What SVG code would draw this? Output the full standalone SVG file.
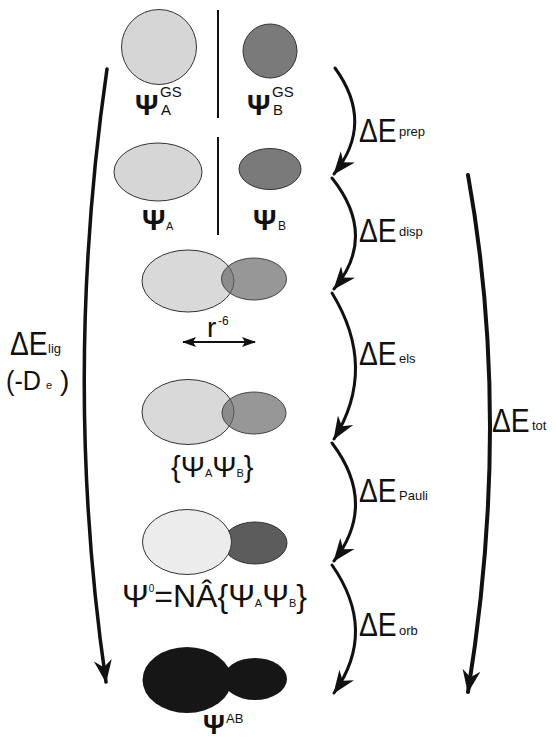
<svg xmlns="http://www.w3.org/2000/svg" width="556" height="739" viewBox="0 0 556 739">
<style>
text{font-family:"Liberation Sans",Arial,sans-serif;fill:#111}
.big{font-size:34px}
.sub{font-size:13px}
.psi{font-size:29px;font-weight:bold}
.arr{fill:none;stroke:#111;stroke-linecap:round}
.ol{stroke:#333;stroke-width:1}
</style>
<defs>
<marker id="ah" markerUnits="userSpaceOnUse" markerWidth="24" markerHeight="20" viewBox="0 0 24 20" refX="22" refY="10" orient="auto">
<path d="M0,1 L23,10 L0,19 L7,10 Z" fill="#111"/>
</marker>
<marker id="ahs" markerUnits="userSpaceOnUse" markerWidth="14" markerHeight="10" viewBox="0 0 14 10" refX="13" refY="5" orient="auto-start-reverse">
<path d="M0,0 L14,5 L0,10 L3,5 Z" fill="#111"/>
</marker>
</defs>
<rect width="556" height="739" fill="#fff"/>

<g id="row1">
<circle cx="159" cy="47" r="37.5" fill="#d6d6d6" class="ol"/>
<circle cx="270" cy="51" r="27" fill="#7a7a7a" class="ol"/>
<line x1="218" y1="10" x2="218" y2="118" stroke="#111" stroke-width="2"/>
<text x="135" y="115" class="psi">Ψ</text><text x="160" y="97" font-size="15">GS</text><text x="161" y="115" font-size="15">A</text>
<text x="247" y="115" class="psi">Ψ</text><text x="272" y="97" font-size="15">GS</text><text x="273" y="115" font-size="15">B</text>
</g>

<g id="row2">
<ellipse cx="158" cy="172" rx="44" ry="29" fill="#d6d6d6" class="ol"/>
<ellipse cx="270" cy="169" rx="31" ry="20.5" fill="#7a7a7a" class="ol"/>
<line x1="218" y1="137" x2="218" y2="235" stroke="#111" stroke-width="2"/>
<text x="142" y="230" class="psi">Ψ</text><text x="166" y="230" font-size="11">A</text>
<text x="253" y="230" class="psi">Ψ</text><text x="278" y="230" font-size="12">B</text>
</g>

<g id="row3">
<ellipse cx="188" cy="281" rx="46" ry="31" fill="#d9d9d9" class="ol"/>
<ellipse cx="254" cy="279" rx="32.5" ry="21" fill="#666" fill-opacity="0.68" stroke="#444" stroke-width="1"/>
<text x="207" y="337" font-size="28">r</text><text x="218" y="325" font-size="12">-6</text>
<line x1="183" y1="342" x2="255" y2="342" stroke="#111" stroke-width="2" marker-start="url(#ahs)" marker-end="url(#ahs)"/>
</g>

<g id="row4">
<ellipse cx="188" cy="412" rx="46" ry="32.5" fill="#d9d9d9" class="ol"/>
<ellipse cx="254" cy="413" rx="32" ry="21" fill="#666" fill-opacity="0.68" stroke="#444" stroke-width="1"/>
<text x="171" y="477" font-size="29">{Ψ<tspan font-size="11">A</tspan>Ψ<tspan font-size="11">B</tspan>}</text>
</g>

<g id="row5">
<ellipse cx="255" cy="543" rx="32" ry="21" fill="#5c5c5c" class="ol"/>
<ellipse cx="187" cy="542" rx="44.5" ry="32.5" fill="#ececec" class="ol"/>
<text x="122" y="607" font-size="32">Ψ<tspan font-size="10" dy="-15">0</tspan><tspan dy="15">=NÂ{Ψ</tspan><tspan font-size="11">A</tspan>Ψ<tspan font-size="11">B</tspan>}</text>
</g>

<g id="row6">
<ellipse cx="255" cy="679" rx="32" ry="21" fill="#161616"/>
<ellipse cx="187" cy="680" rx="44.5" ry="33" fill="#161616"/>
<text x="203" y="734" font-size="27" font-weight="bold">Ψ</text><text x="226" y="723" font-size="13">AB</text>
</g>

<g id="connectors">
<path class="arr" stroke-width="3.5" d="M107,69 Q62,380 106,682" marker-end="url(#ah)"/>
<path class="arr" stroke-width="4" d="M468,175 Q512,420 468,692" marker-end="url(#ah)"/>
<path class="arr" stroke-width="3" d="M335,68 Q375,123 334,174" marker-end="url(#ah)"/>
<path class="arr" stroke-width="3" d="M332,178 Q378,236 334,289" marker-end="url(#ah)"/>
<path class="arr" stroke-width="3" d="M332,293 Q378,368 334,439" marker-end="url(#ah)"/>
<path class="arr" stroke-width="3" d="M332,443 Q378,504 334,561" marker-end="url(#ah)"/>
<path class="arr" stroke-width="3" d="M332,565 Q378,631 334,693" marker-end="url(#ah)"/>
</g>

<g id="labels">
<text transform="translate(359,142) scale(0.83,1)" class="big">ΔE</text><text x="399" y="136" class="sub">prep</text>
<text transform="translate(359,242) scale(0.83,1)" class="big">ΔE</text><text x="399" y="236" class="sub">disp</text>
<text transform="translate(359,365) scale(0.83,1)" class="big">ΔE</text><text x="399" y="363" class="sub">els</text>
<text transform="translate(359,502) scale(0.83,1)" class="big">ΔE</text><text x="399" y="500" class="sub">Pauli</text>
<text transform="translate(359,636) scale(0.83,1)" class="big">ΔE</text><text x="399" y="635" class="sub">orb</text>
<text transform="translate(492,432) scale(0.83,1)" class="big">ΔE</text><text x="532" y="430" class="sub">tot</text>
<text transform="translate(10,355) scale(0.83,1)" class="big">ΔE</text><text x="48" y="353" class="sub">lig</text>
<text transform="translate(6,390) scale(0.9,1)" font-size="28">(-D</text><text x="46" y="389" font-size="11">e</text><text x="60" y="390" font-size="28">)</text>
</g>
</svg>
